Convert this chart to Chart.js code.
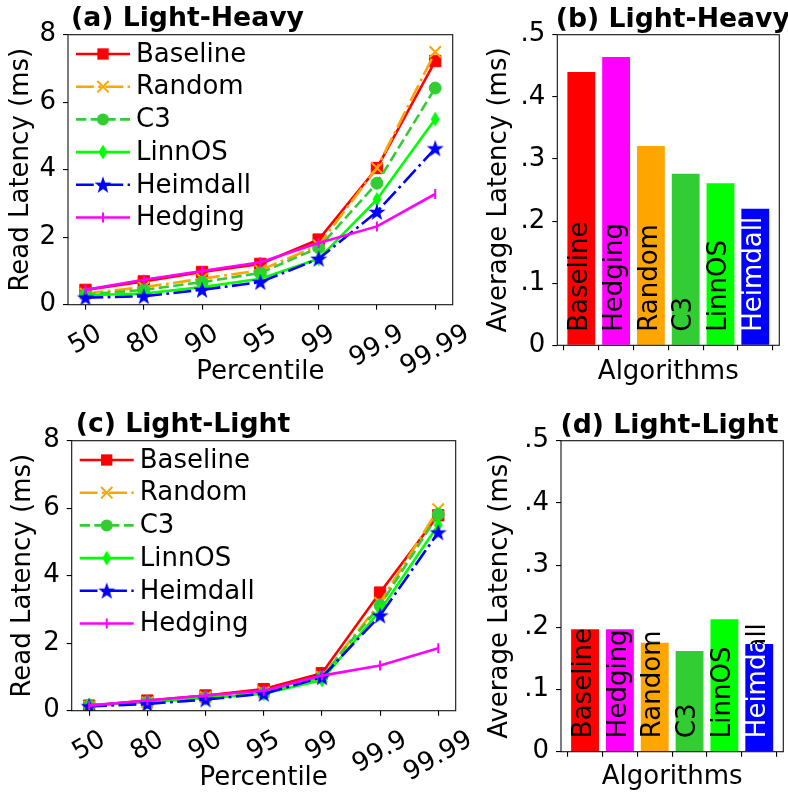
<!DOCTYPE html>
<html><head><meta charset="utf-8">
<script src="https://cdn.jsdelivr.net/npm/chart.js@4.4.1/dist/chart.umd.min.js"></script>
<style>
html,body{margin:0;padding:0;background:#fff;}
#wrap{position:relative;width:788px;height:792px;overflow:hidden;background:#fff;}
canvas{position:absolute;left:0;top:0;}
</style></head><body>
<div id="wrap">
<canvas id="ca" width="788" height="792"></canvas>
<canvas id="cb" width="788" height="792"></canvas>
<canvas id="cc" width="788" height="792"></canvas>
<canvas id="cd" width="788" height="792"></canvas>
</div>
<script>
// ---------------- DATA ----------------
const percentiles = ['50','80','90','95','99','99.9','99.99'];
const seriesNames = ['Baseline','Random','C3','LinnOS','Heimdall','Hedging'];
// (a) Light-Heavy read latency (ms)
const heavyBaseline = [0.44,0.69,0.97,1.21,1.93,4.05,7.22];
const heavyRandom   = [0.33,0.52,0.77,1.02,1.76,4.05,7.49];
const heavyC3       = [0.30,0.44,0.67,0.94,1.69,3.60,6.42];
const heavyLinnOS   = [0.28,0.33,0.52,0.77,1.36,3.12,5.50];
const heavyHeimdall = [0.21,0.25,0.44,0.67,1.36,2.75,4.63];
const heavyHedging  = [0.44,0.74,1.00,1.26,1.83,2.32,3.28];
// (c) Light-Light read latency (ms)
const lightBaseline = [0.15,0.30,0.45,0.64,1.11,3.50,5.79];
const lightRandom   = [0.12,0.25,0.40,0.55,1.00,3.20,5.97];
const lightC3       = [0.15,0.25,0.38,0.52,1.00,3.12,5.82];
const lightLinnOS   = [0.17,0.25,0.37,0.50,0.91,2.97,5.50];
const lightHeimdall = [0.13,0.20,0.33,0.50,0.99,2.82,5.28];
const lightHedging  = [0.15,0.30,0.45,0.59,1.04,1.34,1.85];
// (b)/(d) average latency (ms)
const algorithms = ['Baseline','Hedging','Random','C3','LinnOS','Heimdall'];
const heavyAvg = [0.440,0.464,0.321,0.276,0.261,0.220];
const lightAvg = [0.197,0.197,0.175,0.162,0.213,0.173];
// tick labels
const latencyTicks = [0,2,4,6,8];
const avgTicks = [0,0.1,0.2,0.3,0.4,0.5];
const avgTickLabels = ['0','.1','.2','.3','.4','.5'];

// ---------------- STYLES ----------------
const FONT = '"DejaVu Sans", sans-serif';
const FS = 26;
const TFS = 26.7;
const YW = 60; // width reserved for y scale box
Chart.defaults.font.family = FONT;
Chart.defaults.font.size = FS;
Chart.defaults.color = '#000';

function diamondImg(color){
  const c=document.createElement('canvas'); c.width=10; c.height=16;
  const g=c.getContext('2d'); g.fillStyle=color;
  g.beginPath(); g.moveTo(5,0.5); g.lineTo(9.5,8); g.lineTo(5,15.5); g.lineTo(0.5,8); g.closePath(); g.fill();
  return c;
}
function starImg(color){
  const c=document.createElement('canvas'); c.width=20; c.height=20;
  const g=c.getContext('2d'); g.fillStyle=color;
  const cx=10, cy=10.6, R=9, r=3.6;
  g.beginPath();
  for(let k=0;k<10;k++){
    const a=-Math.PI/2+k*Math.PI/5, rad=(k%2)?r:R;
    const px=cx+rad*Math.cos(a), py=cy+rad*Math.sin(a);
    if(k===0) g.moveTo(px,py); else g.lineTo(px,py);
  }
  g.closePath(); g.fill();
  return c;
}
const LW = 2.6;
const seriesStyles = [
  {color:'#ff0000', dash:[], point:'rect', radius:8},
  {color:'#ffa500', dash:[17.8,4.4,2.8,4.4], point:'crossRot', radius:8, pbw:2},
  {color:'#32cd32', dash:[10.3,4.4], point:'circle', radius:6},
  {color:'#00ff00', dash:[], point:diamondImg('#00ff00'), radius:8},
  {color:'#0000ff', dash:[17.8,4.4,2.8,4.4], point:starImg('#0000ff'), radius:9},
  {color:'#ff00ff', dash:[], point:'line', radius:5, rot:90, pbw:2}
];
const barColors = ['#ff0000','#ff00ff','#ffa500','#32cd32','#00ff00','#0000ff'];
const barTextColors = ['#000','#000','#000','#000','#000','#fff'];

function drawMarker(ctx, st, x, y){
  ctx.save();
  ctx.fillStyle = st.color; ctx.strokeStyle = st.color; ctx.setLineDash([]);
  const p = st.point, r = st.radius;
  if (p instanceof HTMLCanvasElement){ ctx.drawImage(p, x-p.width/2, y-p.height/2); }
  else if (p==='rect'){ const s=Math.SQRT1_2*r; ctx.fillRect(x-s,y-s,2*s,2*s); }
  else if (p==='circle'){ ctx.beginPath(); ctx.arc(x,y,r,0,2*Math.PI); ctx.fill(); }
  else if (p==='crossRot'){ const s=Math.SQRT1_2*r; ctx.lineWidth=st.pbw||2; ctx.beginPath();
    ctx.moveTo(x-s,y-s); ctx.lineTo(x+s,y+s); ctx.moveTo(x-s,y+s); ctx.lineTo(x+s,y-s); ctx.stroke(); }
  else if (p==='line'){ ctx.lineWidth=st.pbw||2; ctx.beginPath(); ctx.moveTo(x,y-r); ctx.lineTo(x,y+r); ctx.stroke(); }
  ctx.restore();
}

function textPlugin(cfg){
  return {
    id:'txt'+cfg.key,
    afterDraw(chart){
      const ctx=chart.ctx, a=chart.chartArea;
      ctx.save();
      // spines
      ctx.strokeStyle='#111'; ctx.lineWidth=1.1; ctx.setLineDash([]);
      ctx.strokeRect(a.left, a.top, a.right-a.left, a.bottom-a.top);
      ctx.fillStyle='#000';
      // title
      ctx.font='bold '+TFS+'px '+FONT; ctx.textAlign='left'; ctx.textBaseline='alphabetic';
      ctx.fillText(cfg.title, a.left+cfg.titleDX, cfg.titleY);
      // x label
      ctx.font=FS+'px '+FONT; ctx.textAlign='center';
      ctx.fillText(cfg.xlabel, (a.left+a.right)/2, cfg.xlabelY);
      // y label
      ctx.save(); ctx.translate(cfg.ylabelX, (a.top+a.bottom)/2); ctx.rotate(-Math.PI/2);
      ctx.textAlign='center'; ctx.textBaseline='alphabetic'; ctx.fillText(cfg.ylabel,0,0); ctx.restore();
      // rotated x tick labels
      if (cfg.xticks){
        const xs=chart.scales.x, th=cfg.rot*Math.PI/180;
        ctx.font=FS+'px '+FONT;
        cfg.xticks.forEach((lab,i)=>{
          const w=ctx.measureText(lab).width, h=FS*1.17;
          const H=w*Math.sin(th)+h*Math.cos(th);
          const x=xs.getPixelForValue(i), cy=a.bottom+14+H/2;
          ctx.save(); ctx.translate(x,cy); ctx.rotate(-th);
          ctx.textAlign='center'; ctx.textBaseline='middle'; ctx.fillText(lab,0,0); ctx.restore();
        });
      }
      // legend
      if (cfg.legend){
        ctx.font=FS+'px '+FONT;
        seriesNames.forEach((nm,i)=>{
          const st=seriesStyles[i], y=a.top+19.3+i*32.7, x0=a.left+8, x1=a.left+62;
          ctx.save(); ctx.strokeStyle=st.color; ctx.lineWidth=LW; ctx.setLineDash(st.dash);
          ctx.beginPath(); ctx.moveTo(x0,y); ctx.lineTo(x1,y); ctx.stroke(); ctx.restore();
          drawMarker(ctx, st, (x0+x1)/2, y);
          ctx.fillStyle='#000'; ctx.textAlign='left'; ctx.textBaseline='middle';
          ctx.fillText(nm, a.left+68, y+1);
        });
      }
      // bar labels
      if (cfg.barLabels){
        const meta=chart.getDatasetMeta(0);
        ctx.font=FS+'px '+FONT;
        meta.data.forEach((bar,i)=>{
          const p=bar.getProps(['x','y','base','width'],true);
          const draw=(col)=>{ ctx.save(); ctx.fillStyle=col; ctx.translate(p.x-1, p.base-13); ctx.rotate(-Math.PI/2);
            ctx.textAlign='left'; ctx.textBaseline='middle'; ctx.fillText(algorithms[i],0,0); ctx.restore(); };
          ctx.save(); ctx.beginPath(); ctx.rect(p.x-p.width/2-2, p.y, p.width+4, p.base-p.y); ctx.clip();
          draw(barTextColors[i]); ctx.restore();
          ctx.save(); ctx.beginPath(); ctx.rect(p.x-p.width/2-2, 0, p.width+4, p.y); ctx.clip();
          draw('#000'); ctx.restore();
        });
      }
      ctx.restore();
    }
  };
}

function axisCommon(){
  return {
    grid:{display:true, drawOnChartArea:false, drawTicks:true, tickLength:5, color:'#000', lineWidth:1.1},
    border:{display:false}
  };
}

function makeLine(id, plot, key, title, series, lab){
  const datasets = series.map((vals,i)=>{
    const st=seriesStyles[i];
    return {
      label: seriesNames[i],
      data: vals.map((v,j)=>({x:j,y:v})),
      borderColor: st.color, backgroundColor: st.color, borderWidth: LW, borderDash: st.dash,
      pointStyle: st.point, pointRadius: st.radius, pointRotation: st.rot||0,
      pointBackgroundColor: st.color, pointBorderColor: st.color, pointBorderWidth: st.pbw||1,
      tension:0, fill:false, order: 10-i
    };
  });
  return new Chart(document.getElementById(id), {
    type:'line',
    data:{datasets},
    options:{
      responsive:false, animation:false, events:[],
      layout:{padding:{left:plot.l-YW, top:plot.t, right:788-plot.r, bottom:792-plot.b-5}},
      plugins:{legend:{display:false}, tooltip:{enabled:false}},
      scales:{
        x:Object.assign(axisCommon(),{type:'linear', min:-0.3, max:6.3,
          afterBuildTicks:(s)=>{ s.ticks=percentiles.map((_,i)=>({value:i})); },
          ticks:{display:false},
          afterFit:(s)=>{ s.height=5; }}),
        y:Object.assign(axisCommon(),{type:'linear', min:0, max:8,
          afterBuildTicks:(s)=>{ s.ticks=latencyTicks.map(v=>({value:v})); },
          ticks:{padding:7, color:'#000', font:{size:FS}, autoSkip:false, callback:(v)=>String(v)},
          afterFit:(s)=>{ s.width=YW; }})
      }
    },
    plugins:[textPlugin(Object.assign({key, title, xlabel:'Percentile', ylabel:'Read Latency (ms)', xticks:percentiles, rot:30, legend:true}, lab))]
  });
}

function makeBar(id, plot, key, title, vals, lab){
  return new Chart(document.getElementById(id), {
    type:'bar',
    data:{datasets:[{label:'avg', data: vals.map((v,i)=>({x:i,y:v})), backgroundColor: barColors,
      borderWidth:0, categoryPercentage:1.0, barPercentage:0.8}]},
    options:{
      responsive:false, animation:false, events:[],
      layout:{padding:{left:plot.l-YW, top:plot.t, right:788-plot.r, bottom:792-plot.b-5}},
      plugins:{legend:{display:false}, tooltip:{enabled:false}},
      scales:{
        x:Object.assign(axisCommon(),{type:'linear', min:-0.69, max:5.69, offset:false,
          afterBuildTicks:(s)=>{ s.ticks=algorithms.map((_,i)=>({value:i})); },
          ticks:{display:false},
          afterFit:(s)=>{ s.height=5; }}),
        y:Object.assign(axisCommon(),{type:'linear', min:0, max:0.5,
          afterBuildTicks:(s)=>{ s.ticks=avgTicks.map(v=>({value:v})); },
          ticks:{padding:7, color:'#000', font:{size:FS}, autoSkip:false, callback:(v)=>{ const k=avgTicks.findIndex(t=>Math.abs(t-v)<1e-9); return k>=0?avgTickLabels[k]:''; }},
          afterFit:(s)=>{ s.width=YW; }})
      }
    },
    plugins:[textPlugin(Object.assign({key, title, xlabel:'Algorithms', ylabel:'Average Latency (ms)', barLabels:true}, lab))]
  });
}

makeLine('ca', {l:68, t:34.7, r:452.7, b:304.7}, 'a', '(a) Light-Heavy',
  [heavyBaseline,heavyRandom,heavyC3,heavyLinnOS,heavyHeimdall,heavyHedging],
  {titleY:26, titleDX:3, xlabelY:379, ylabelX:28});
makeBar('cb', {l:557.3, t:34.7, r:779.3, b:345.3}, 'b', '(b) Light-Heavy', heavyAvg,
  {titleY:26.5, titleDX:-1.5, xlabelY:378.5, ylabelX:506});
makeLine('cc', {l:71.7, t:440.7, r:455.7, b:710.7}, 'c', '(c) Light-Light',
  [lightBaseline,lightRandom,lightC3,lightLinnOS,lightHeimdall,lightHedging],
  {titleY:432, titleDX:4, xlabelY:785, ylabelX:29.5});
makeBar('cd', {l:561, t:440.7, r:783.3, b:751.7}, 'd', '(d) Light-Light', lightAvg,
  {titleY:433, titleDX:-0.5, xlabelY:783.5, ylabelX:507});
</script>
</body></html>
